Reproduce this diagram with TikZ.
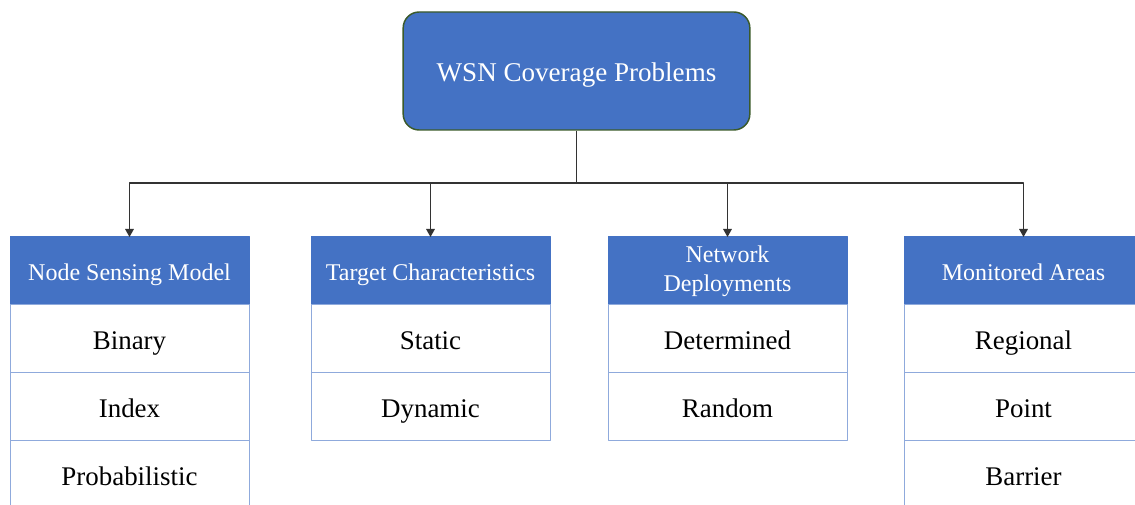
\documentclass[tikz,border=0pt]{standalone}
\usepackage{fontspec}
\setmainfont{Liberation Serif}
\usetikzlibrary{positioning,arrows.meta}
\definecolor{wsnblue}{HTML}{4472C4}
\definecolor{cellline}{HTML}{8FAADC}
\definecolor{rootline}{HTML}{3B5A2A}
\begin{document}
\begin{tikzpicture}[x=0.75pt,y=-0.75pt,line join=round,>={Triangle[length=6pt,width=6.5pt]}]
		\tikzset{root/.style={draw=rootline,line width=1.1pt,fill=wsnblue,rounded corners=12pt,minimum width=260pt,minimum height=88.5pt,text height=20pt,text depth=4.4pt,text=white,font=\fontsize{20.3}{24}\selectfont},
			head/.style={draw=wsnblue,fill=wsnblue,line width=0.75pt,outer sep=0pt,minimum width=179.25pt,minimum height=51pt,text height=18.5pt,text depth=4pt,align=center,text=white,font=\fontsize{18}{21.75}\selectfont},
			cell/.style={draw=cellline,fill=white,line width=0.75pt,outer sep=0pt,minimum width=179.25pt,minimum height=51pt,text height=19.5pt,text depth=4pt,font=\fontsize{20.2}{24}\selectfont},
			wire/.style={draw=black!80,line width=0.8pt}}
		\useasboundingbox (0,0) rectangle (1135,505);
		\clip (0,0) rectangle (1135,505);
		\node[root] (wsn) at (576.5,71) {WSN Coverage Problems};
		% node sensing model
		\node[head] (hsense) at (129.5,271) {Node Sensing Model};
		\node[cell,below=0pt of hsense] (binary) {Binary};
		\node[cell,below=0pt of binary] (index) {Index};
		\node[cell,below=0pt of index] (prob) {Probabilistic};
		% target characteristics
		\node[head] (htarget) at (430.5,271) {Target Characteristics};
		\node[cell,below=0pt of htarget] (static) {Static};
		\node[cell,below=0pt of static] (dynamic) {Dynamic};
		% network deployments
		\node[head,text height={},text depth={},inner ysep=0pt] (hdeploy) at (727.5,271) {Network\\Deployments};
		\node[cell,below=0pt of hdeploy] (determined) {Determined};
		\node[cell,below=0pt of determined] (random) {Random};
		% monitored areas
		\node[head] (harea) at (1023.5,271) {Monitored Areas};
		\node[cell,below=0pt of harea] (regional) {Regional};
		\node[cell,below=0pt of regional] (point) {Point};
		\node[cell,below=0pt of point] (barrier) {Barrier};
		\coordinate (bus) at (576.5,183);
		\draw[wire] (wsn.south) -- (bus);
		\foreach \h in {hsense,htarget,hdeploy,harea}
			\draw[wire,->] (bus) -| (\h.north);
\end{tikzpicture}
\end{document}
